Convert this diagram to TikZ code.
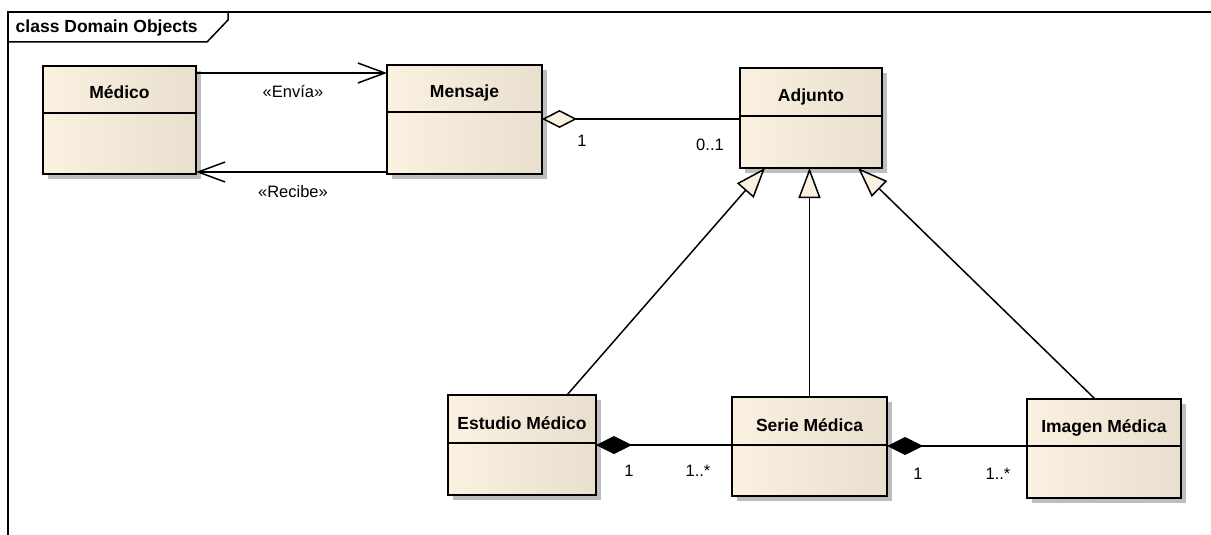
\documentclass[tikz,border=0pt]{standalone}
\usepackage{fontspec}
\setmainfont{Liberation Sans}
\usetikzlibrary{arrows.meta,shadows,calc}
\definecolor{cream}{HTML}{FBF1E1}
\definecolor{creamdark}{HTML}{E9DFCE}
\definecolor{shadowgray}{HTML}{BEBEBE}

% class box: name, x1, y1, x2, y2, separator y, title
\newcommand\umlclass[7]{%
  \node[classbox, minimum width={#4-#2}, minimum height={#5-#3}] (#1) at ({(#2+#4)/2},{(#3+#5)/2}) {};
  \draw (#1.west |- 0,#6) -- (#1.east |- 0,#6);
  \node[classtitle, anchor=base] (#1-t) at ({(#2+#4)/2},{#6-14}) {#7};
}

\begin{document}
\begin{tikzpicture}[x=1pt, y=-1pt, line width=1.5pt,
  classbox/.style={draw=black, inner sep=0pt, outer sep=0pt,
    left color=cream, right color=creamdark,
    drop shadow={shadow xshift=5pt, shadow yshift=-5pt, fill=shadowgray, opacity=1}},
  classtitle/.style={font=\bfseries\fontsize{17.5}{19}\selectfont, inner sep=0pt},
  lbl/.style={font=\fontsize{16.5}{18}\selectfont, inner sep=0pt},
  dep/.style={-{Straight Barb[length=27pt, width=20pt]}},
  aggr/.style={{Diamond[length=35pt, width=18pt, fill=cream]}-},
  comp/.style={{Diamond[length=36pt, width=18pt]}-},
  gen/.style={-{Triangle[length=30pt, width=22pt, fill=cream]}},
]
\useasboundingbox (0,0) rectangle (1211,535);
\fill[white] (0,0) rectangle (1211,535);

% diagram frame with its name tab
\draw (8,540) -- (8,12) -- (1215,12);
\draw (8,42) -- (207,42) -- (228,20) -- (228,12);
\node[anchor=base west, font=\bfseries\fontsize{17.5}{19}\selectfont, inner sep=0pt] (frame-t) at (15,33) {class Domain Objects};

% classes
\umlclass{med}{43}{66}{196}{174}{113}{Médico}
\umlclass{msg}{387}{65}{542}{174}{112}{Mensaje}
\umlclass{adj}{740}{68}{882}{168}{116}{Adjunto}
\umlclass{est}{448}{395}{596}{495}{443}{Estudio Médico}
\umlclass{ser}{732}{397}{887}{496}{445}{Serie Médica}
\umlclass{img}{1027}{399}{1181}{498}{446}{Imagen Médica}

% dependencies between Médico and Mensaje
\draw[dep] ([yshift=-7pt]med.north east) -- ([yshift=-8pt]msg.north west);
\draw[dep] ([yshift=2pt]msg.south west) -- ([yshift=2pt]med.south east);
\node[lbl] (envia) at (293,92) {«Envía»};
\node[lbl] (recibe) at (293,192) {«Recibe»};

% aggregation Mensaje - Adjunto
\draw[aggr] ([yshift=-54pt]msg.north east) -- ([yshift=-51pt]adj.north west);
\node[lbl] (m1) at (582,141) {1};
\node[lbl] (m2) at (710,145) {0..1};

% generalizations
\draw[gen] ([xshift=45pt]est.north) -- ([xshift=-46pt]adj.south);
\draw[gen] (ser.north) -- (ser.north |- adj.south);
\draw[gen] ([xshift=-9pt]img.north) -- ([xshift=47pt]adj.south);

% compositions
\draw[comp] ([yshift=-50pt]est.north east) -- ([yshift=-48pt]ser.north west);
\node[lbl] (m3) at (629,471) {1};
\node[lbl] (m4) at (698,471) {1..*};
\draw[comp] ([yshift=-49pt]ser.north east) -- ([yshift=-47pt]img.north west);
\node[lbl] (m5) at (918,474) {1};
\node[lbl] (m6) at (998,474) {1..*};
\end{tikzpicture}
\end{document}
